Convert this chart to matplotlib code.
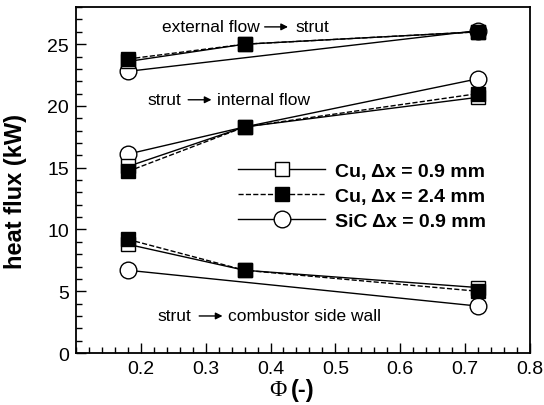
import matplotlib
matplotlib.use('Agg')
import matplotlib.pyplot as plt
from matplotlib.ticker import MultipleLocator

plt.rcParams['font.family'] = ['Liberation Sans', 'DejaVu Sans']

# equivalence ratio
phi = [0.18, 0.36, 0.72]
phi_sic = [0.18, 0.72]

# heat flux (kW) for each path
cu09_ext = [23.6, 25.0, 26.0]
cu09_int = [15.1, 18.3, 20.7]
cu09_wall = [8.8, 6.7, 5.3]

cu24_ext = [23.8, 25.0, 26.0]
cu24_int = [14.7, 18.3, 21.0]
cu24_wall = [9.2, 6.7, 5.0]

sic_ext = [22.8, 26.1]
sic_int = [16.1, 18.3, 22.2]
sic_wall = [6.7, 3.8]

labels = ['Cu, \u0394x = 0.9 mm', 'Cu, \u0394x = 2.4 mm', 'SiC \u0394x = 0.9 mm']

fig = plt.figure(figsize=(5.44, 4.06), dpi=100)
ax = fig.add_axes([0.1397, 0.128, 0.8343, 0.852])

lw = 1.0
sq = dict(marker='s', markersize=10, markeredgecolor='black', markeredgewidth=1.0)
circ = dict(marker='o', markersize=12, markerfacecolor='white',
            markeredgecolor='black', markeredgewidth=1.0)

# SiC
h3, = ax.plot(phi_sic, sic_ext, '-', color='black', lw=lw, zorder=2, **circ)
ax.plot(phi, sic_int, '-', color='black', lw=lw, markevery=[0, 2], zorder=2, **circ)
ax.plot(phi_sic, sic_wall, '-', color='black', lw=lw, zorder=2, **circ)

# Cu 0.9 mm
h1, = ax.plot(phi, cu09_ext, '-', color='black', lw=lw, markerfacecolor='white', zorder=3, **sq)
ax.plot(phi, cu09_int, '-', color='black', lw=lw, markerfacecolor='white', zorder=3, **sq)
ax.plot(phi, cu09_wall, '-', color='black', lw=lw, markerfacecolor='white', zorder=3, **sq)

# Cu 2.4 mm
h2, = ax.plot(phi, cu24_ext, '--', color='black', lw=lw, markerfacecolor='black', zorder=4, **sq)
ax.plot(phi, cu24_int, '--', color='black', lw=lw, markerfacecolor='black', zorder=4, **sq)
ax.plot(phi, cu24_wall, '--', color='black', lw=lw, markerfacecolor='black', zorder=4, **sq)

ax.set_xlim(0.1, 0.8)
ax.set_ylim(0, 28)
ax.xaxis.set_major_locator(MultipleLocator(0.1))
ax.xaxis.set_minor_locator(MultipleLocator(0.02))
ax.yaxis.set_major_locator(MultipleLocator(5))
ax.yaxis.set_minor_locator(MultipleLocator(1))
ax.set_xticks([0.2, 0.3, 0.4, 0.5, 0.6, 0.7, 0.8])
ax.tick_params(which='both', direction='in', top=False, right=False, labelsize=14, width=1.0)
ax.tick_params(which='major', length=7, pad=5)
ax.tick_params(which='minor', length=4)
for s in ax.spines.values():
    s.set_linewidth(1.3)

ax.set_ylabel('heat flux (kW)', fontsize=17, fontweight='bold')
ax.yaxis.set_label_coords(-0.108, 0.47)

ax.text(0.463, -0.106, '\u03a6', transform=ax.transAxes, ha='right', va='center',
        fontsize=17, family='Liberation Serif')
ax.text(0.474, -0.106, '(-)', transform=ax.transAxes, ha='left', va='center',
        fontsize=17, fontweight='bold')

# path annotations
arrow = dict(arrowstyle='-|>', color='black', lw=1.0, mutation_scale=10, shrinkA=0, shrinkB=0)
fs = 12.5
ax.text(0.383, 26.4, 'external flow', ha='right', va='center', fontsize=fs)
ax.annotate('', xy=(0.427, 26.4), xytext=(0.391, 26.4), arrowprops=arrow)
ax.text(0.438, 26.4, 'strut', ha='left', va='center', fontsize=fs)

ax.text(0.262, 20.5, 'strut', ha='right', va='center', fontsize=fs)
ax.annotate('', xy=(0.309, 20.5), xytext=(0.273, 20.5), arrowprops=arrow)
ax.text(0.318, 20.5, 'internal flow', ha='left', va='center', fontsize=fs)

ax.text(0.277, 3.0, 'strut', ha='right', va='center', fontsize=fs)
ax.annotate('', xy=(0.326, 3.0), xytext=(0.290, 3.0), arrowprops=arrow)
ax.text(0.334, 3.0, 'combustor side wall', ha='left', va='center', fontsize=fs)

leg = ax.legend([h1, h2, h3], labels, loc='center', bbox_to_anchor=(0.63, 0.454),
                frameon=False, handlelength=4.5, handletextpad=0.5, labelspacing=0.38,
                prop={'weight': 'bold', 'size': 14})

fig.savefig('out.png', dpi=100)
